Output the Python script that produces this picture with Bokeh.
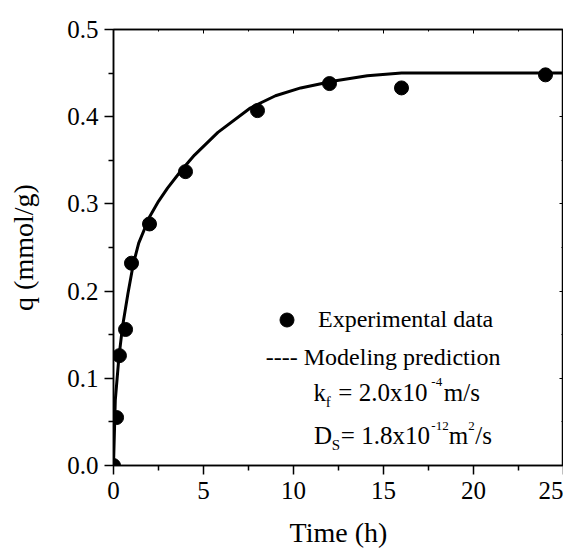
from bokeh.plotting import figure
from bokeh.models import (FixedTicker, LinearAxis, Legend, LegendItem, Label,
                          NumeralTickFormatter, Range1d)
from bokeh.embed import file_html
from bokeh.resources import INLINE

# ---- data ----
exp_time = [0, 0.17, 0.33, 0.67, 1, 2, 4, 8, 12, 16, 24]
exp_q = [0.0, 0.055, 0.126, 0.156, 0.232, 0.277, 0.337, 0.407, 0.438, 0.433, 0.448]

model_time = [0, 0.1, 0.3, 0.5, 0.8, 1.1, 1.4, 2, 2.5, 3, 3.75, 4.5, 5.8, 7.6, 9,
              10.4, 12.25, 14.1, 16, 25]
model_q = [0.0, 0.075, 0.124, 0.159, 0.197, 0.231, 0.255, 0.285, 0.303, 0.318, 0.338,
           0.356, 0.382, 0.410, 0.424, 0.433, 0.441, 0.447, 0.450, 0.450]

x_ticks = [0, 5, 10, 15, 20, 25]
y_ticks = [0.0, 0.1, 0.2, 0.3, 0.4, 0.5]

FONT = "Liberation Serif"
X0, X1, Y0, Y1 = 0, 25, 0, 0.5
FW, FH = 450, 436

p = figure(width=576, height=545, output_backend="svg", toolbar_location=None,
           x_range=Range1d(X0, X1), y_range=Range1d(Y0, Y1),
           frame_width=FW, frame_height=FH,
           min_border_left=113, min_border_top=29, min_border_right=0, min_border_bottom=0)
p.background_fill_color = "white"
p.border_fill_color = "white"
p.outline_line_color = "black"
p.outline_line_width = 1.5
p.xgrid.visible = False
p.ygrid.visible = False

for ax in (p.xaxis[0], p.yaxis[0]):
    ax.axis_line_width = 1.5
    ax.axis_line_color = "black"
    ax.major_tick_line_width = 1.5
    ax.minor_tick_line_width = 1.5
    ax.major_tick_line_color = "black"
    ax.minor_tick_line_color = "black"
    ax.major_tick_out = 9
    ax.major_tick_in = 0
    ax.minor_tick_out = 5
    ax.minor_tick_in = 0
    ax.major_label_text_font = FONT
    ax.major_label_text_font_size = "25px"
    ax.major_label_text_color = "black"
    ax.axis_label_text_font = FONT
    ax.axis_label_text_font_size = "28px"
    ax.axis_label_text_font_style = "normal"
    ax.axis_label_text_color = "black"

p.xaxis.ticker = FixedTicker(ticks=x_ticks, minor_ticks=[t + 2.5 for t in x_ticks[:-1]])
p.yaxis.ticker = FixedTicker(ticks=y_ticks, minor_ticks=[round(t + 0.05, 2) for t in y_ticks[:-1]])
p.yaxis.formatter = NumeralTickFormatter(format="0.0")
p.xaxis.axis_label = "Time (h)"
p.yaxis.axis_label = "q (mmol/g)"
p.xaxis.major_label_standoff = 7
p.yaxis.major_label_standoff = 6
p.xaxis.axis_label_standoff = 15
p.yaxis.axis_label_standoff = 25

# top & right axes: small inward ticks, no labels
for loc, ticks, minors in (("right", y_ticks, [round(t + 0.05, 2) for t in y_ticks[:-1]]),
                           ("above", x_ticks, [t + 2.5 for t in x_ticks[:-1]])):
    a = LinearAxis(ticker=FixedTicker(ticks=ticks, minor_ticks=minors))
    a.major_label_text_font_size = "0px"
    a.major_label_standoff = 0
    a.axis_line_width = 1.5
    a.major_tick_in = 4
    a.major_tick_out = 0
    a.minor_tick_in = 2
    a.minor_tick_out = 0
    a.major_tick_line_width = 1
    a.minor_tick_line_width = 1
    p.add_layout(a, loc)

model = p.line(model_time, model_q, line_color="black", line_width=3)
pts = p.scatter(exp_time, exp_q, size=14, marker="circle", fill_color="black", line_color="black")

# legend for the experimental points
leg1 = Legend(items=[LegendItem(label="Experimental data", renderers=[pts])],
              location=(156, 128), glyph_width=35, glyph_height=35, label_standoff=14,
              padding=0, margin=0, border_line_alpha=0, background_fill_alpha=0,
              label_text_font=FONT, label_text_font_size="24px", label_text_color="black")
p.add_layout(leg1)

# annotations (page pixel positions converted to data units)
FL, FT = 112.7, 29.0
def dx(px):
    return X0 + (px - FL) / FW * (X1 - X0)
def dy(py):
    return Y0 + (FT + FH - py) / FH * (Y1 - Y0)

pieces = [
    ("---- Modeling prediction", 265.0, 356.0, 24),
    ("k", 312.7, 391.7, 25), ("f", 325.0, 401.0, 15), ("= 2.0x10", 337.5, 391.7, 25),
    ("-4", 430.5, 381.5, 13), ("m/s", 443.0, 391.7, 25),
    ("D", 313.3, 435.0, 25), ("S", 331.0, 444.0, 15), ("= 1.8x10", 340.0, 435.0, 25),
    ("-12", 430.5, 425.0, 13), ("m", 448.0, 435.0, 25), ("2", 467.5, 425.0, 13),
    ("/s", 474.5, 435.0, 25),
]
for txt, px, py, fs in pieces:
    p.add_layout(Label(x=dx(px), y=dy(py), text=txt, text_font=FONT,
                       text_font_size=f"{fs}px", text_baseline="alphabetic",
                       text_align="left", text_color="black"))

open("out.html", "w").write(file_html(p, INLINE))
